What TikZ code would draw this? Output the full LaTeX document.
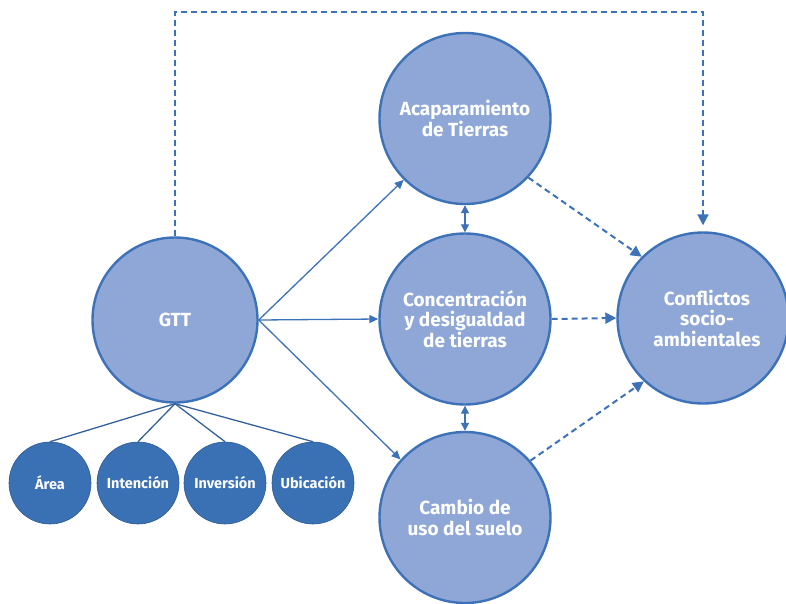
\documentclass[tikz,border=0pt]{standalone}
\usepackage{fontspec}
\setmainfont{Fira Sans}
\usetikzlibrary{arrows.meta}
\definecolor{lineblue}{HTML}{3D72B9}
\definecolor{fillblue}{HTML}{8EA7D6}
\definecolor{darkblue}{HTML}{3A71B5}
\newcommand{\bigtxt}{\fontsize{19}{20.5}\selectfont\bfseries}
\newcommand{\smalltxt}{\fontsize{14.5}{15}\selectfont\bfseries}

\begin{document}
\begin{tikzpicture}[x=1pt,y=-1pt,
  bigc/.style={circle,draw=lineblue,line width=2.4pt,fill=fillblue,text=white,
    minimum size=171pt,inner sep=0pt,align=center,font=\bigtxt},
  smallc/.style={circle,draw=darkblue!80!black,line width=0.6pt,fill=darkblue,text=white,
    minimum size=82pt,inner sep=0pt,font=\smalltxt},
  link/.style={draw=lineblue,line width=1.3pt,-{Triangle[length=9pt,width=8pt]}},
  dlink/.style={draw=lineblue,line width=2pt,dash pattern=on 6pt off 4pt,
    -{Triangle[length=11pt,width=11pt]}}]
\useasboundingbox (0,0) rectangle (786,603);
\node[bigc,minimum size=165pt] (G) at (175,320) {GTT};
\node[bigc] (A) at (465,118.5) {Acaparamiento\\de Tierras};
\node[bigc] (C) at (465,319) {Concentración\\y desigualdad\\de tierras};
\node[bigc] (U) at (465,517.5) {Cambio de\\uso del suelo};
\node[bigc] (F) at (703,318) {\hspace*{8pt}Conflictos\\\hspace*{8pt}socio-\\\hspace*{8pt}ambientales};
\node[smallc] (a1) at (50,483) {Área};
\node[smallc] (a2) at (138,483) {Intención};
\node[smallc] (a3) at (225,483) {Inversión};
\node[smallc] (a4) at (313,483) {Ubicación};
\foreach \n in {a1,a2,a3,a4}
  \draw[lineblue!85!black,line width=1.3pt] (G.south) -- (\n.north);
\draw[link] (G.east) -- (A.225);
\draw[link] (G.east) -- (C.west);
\draw[link] (G.east) -- (U.138);
\draw[link,{Triangle[length=8pt,width=8pt]}-{Triangle[length=8pt,width=8pt]}] (A.south) -- (C.north);
\draw[link,{Triangle[length=8pt,width=8pt]}-{Triangle[length=8pt,width=8pt]}] (C.south) -- (U.north);
\draw[dlink] (A.317) -- (F.135);
\draw[dlink] (C.east) -- (F.west);
\draw[dlink] (U.41.5) -- (F.227);
\draw[dlink,shorten >=6pt] (G.north) -- (G.north |- 0,12) -- (F.north |- 0,12) -- (F.north);
\end{tikzpicture}
\end{document}
